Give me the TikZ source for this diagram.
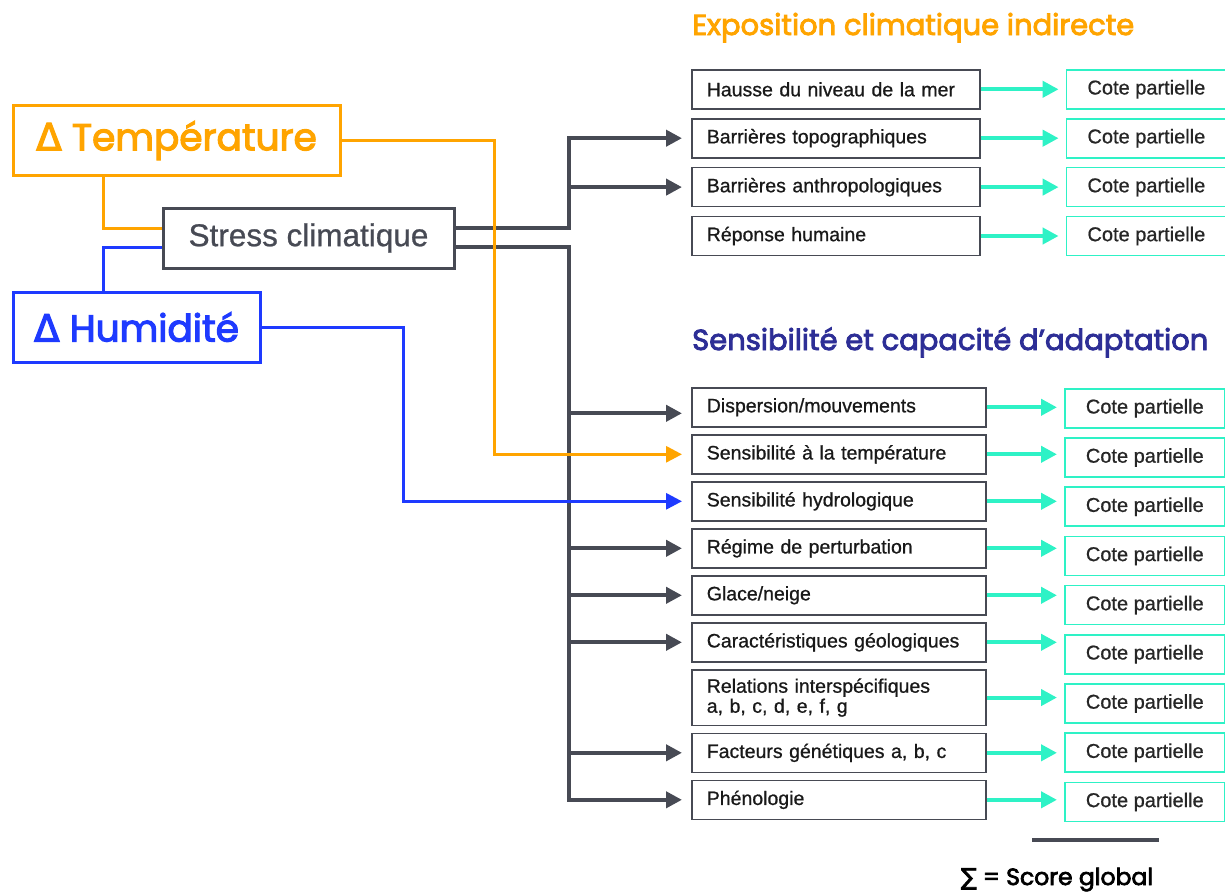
\documentclass[tikz,border=0pt]{standalone}
\usepackage{fontspec}
\setmainfont{Liberation Sans}[FakeBold=0.8]
\newfontfamily\popf{Poppins}[FakeBold=3]
\newfontfamily\dejavu{DejaVu Sans}[FakeBold=3]
\usetikzlibrary{arrows.meta,positioning}
\definecolor{orng}{RGB}{255,164,0}
\definecolor{blu}{RGB}{30,58,255}
\definecolor{gris}{RGB}{71,74,84}
\definecolor{turq}{RGB}{46,242,198}
\definecolor{indigo}{RGB}{45,46,150}

\begin{document}
\begin{tikzpicture}[
x=1pt, y=-1pt,
node distance=6.4pt,
titre/.style={anchor=base west, inner sep=0pt, font=\popf\fontsize{29}{30}\selectfont},
grand/.style={draw, line width=3pt, minimum height=70pt, font=\popf\fontsize{37.5}{40}\selectfont},
mbox/.style={draw=gris, line width=1.6pt, minimum height=39pt, inner xsep=15pt, text width=258pt, align=left, font=\fontsize{19.5}{20}\selectfont, text=black!90},
mboxl/.style={mbox, text width=264pt},
cote/.style={draw=turq, line width=1.6pt, minimum width=160pt, minimum height=39pt, font=\fontsize{20}{20}\selectfont, text=black!85},
fl/.style={-{Triangle[length=16pt,width=16pt]}, shorten >=9pt},
grisfl/.style={fl, draw=gris, line width=4pt},
turqfl/.style={fl, draw=turq, line width=4pt, shorten >=7pt}
]
\useasboundingbox (0,0) rectangle (1225,894);

\node[titre, text=orng] (expo) at (692,35) {Exposition climatique indirecte};
\node[titre, text=indigo] (sensi) at (692,350) {Sensibilité et capacité d’adaptation};

\node[grand, draw=orng, text=orng, minimum width=327pt] (temp) at (176.5,140.5) {{\dejavu Δ} Température};
\node[grand, draw=blu, text=blu, minimum width=247pt] (hum) at (136.5,327) {{\dejavu Δ} Humidité};
\node[draw=gris, line width=3pt, minimum width=291pt, minimum height=60pt, text=gris, font=\fontsize{31.5}{32}\selectfont] (stress) at (308.5,238) {Stress climatique};

\node[mbox, anchor=north west] (hausse) at (691,69) {Hausse du niveau de la mer};
\node[mbox, below=8.3pt of hausse] (topo) {Barrières topographiques};
\node[mbox, below=8.3pt of topo] (anthro) {Barrières anthropologiques};
\node[mbox, below=8.3pt of anthro] (reponse) {Réponse humaine};

\node[mboxl, anchor=north west] (disp) at (691,387) {Dispersion/mouvements};
\node[mboxl, below=of disp] (stemp) {Sensibilité à la température};
\node[mboxl, below=of stemp] (shyd) {Sensibilité hydrologique};
\node[mboxl, below=of shyd] (regime) {Régime de perturbation};
\node[mboxl, below=of regime] (glace) {Glace/neige};
\node[mboxl, below=of glace] (geol) {Caractéristiques géologiques};
\node[mboxl, below=of geol, minimum height=55.5pt] (relat) {Relations interspécifiques\\a, b, c, d, e, f, g};
\node[mboxl, below=of relat] (genet) {Facteurs génétiques a, b, c};
\node[mboxl, below=of genet] (pheno) {Phénologie};

\foreach \m [count=\i] in {hausse,topo,anthro,reponse}
  \node[cote, right=85pt of \m] (ch\i) {Cote partielle};
\node[cote, anchor=north west] (cb1) at (1064,388) {Cote partielle};
\foreach \i [remember=\i as \prev (initially 1)] in {2,...,9}
  \node[cote, below=8.6pt of cb\prev] (cb\i) {Cote partielle};

\foreach \m/\c in {hausse/ch1,topo/ch2,anthro/ch3,reponse/ch4,disp/cb1,stemp/cb2,shyd/cb3,regime/cb4,glace/cb5,geol/cb6,relat/cb7,genet/cb8,pheno/cb9}
  \draw[turqfl] (\m.east) -- (\m.east -| \c.west);

\path ([yshift=10pt]stress.east) ++(113,0) coordinate (j1);
\path ([yshift=-9pt]stress.east) ++(113,0) coordinate (j2);
\draw[grisfl] ([yshift=10pt]stress.east) -- (j1) |- (topo.west);
\draw[grisfl] (j1 |- anthro.west) -- (anthro.west);
\draw[grisfl] ([yshift=-9pt]stress.east) -- (j2) |- (pheno.west);
\draw[grisfl] (j2 |- disp.west) ++(0,6) -- ([yshift=-6pt]disp.west);
\foreach \m in {regime,glace,geol,genet}
  \draw[grisfl] (j2 |- \m.west) -- (\m.west);

\draw[orng, line width=3pt] ([xshift=92pt]temp.south west) |- ([yshift=10pt]stress.west);
\draw[blu, line width=3pt] ([yshift=-9pt]stress.west) -| ([xshift=92pt]hum.north west);
\draw[fl, orng, line width=3pt] (temp.east) -- ++(153,0) |- (stemp.west);
\draw[fl, blu, line width=3pt] (hum.east) -- ++(142,0) |- (shyd.west);

\draw[gris, line width=4pt] (1032,840) -- (1159,840);
\node[anchor=base, inner sep=0pt, font=\popf\fontsize{23.5}{25}\selectfont] (score) at (1057,885) {{\dejavu ∑} = Score global};
\end{tikzpicture}
\end{document}
